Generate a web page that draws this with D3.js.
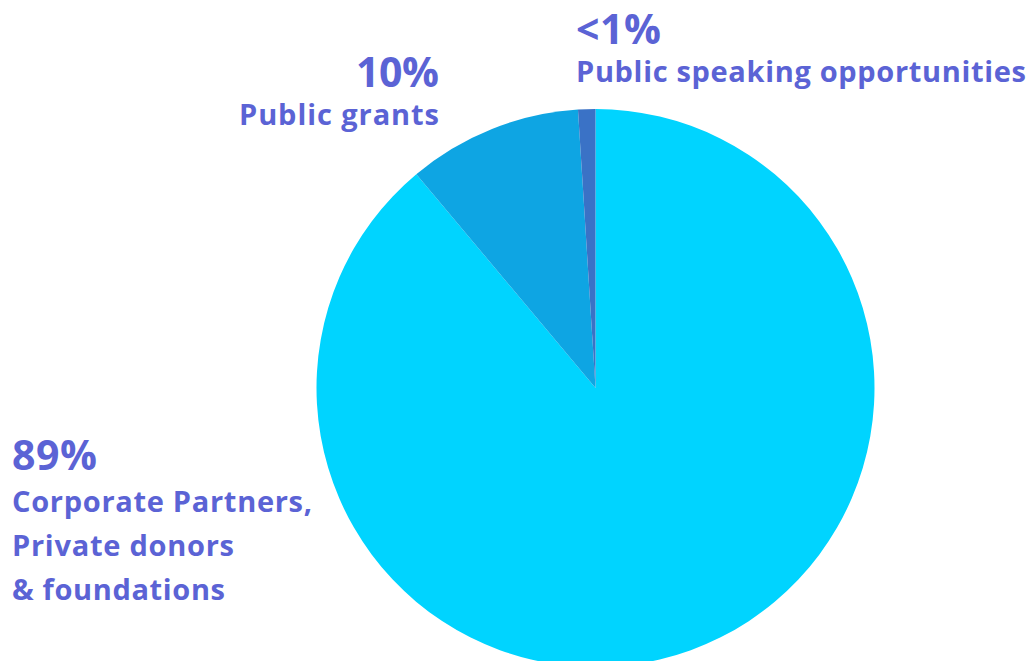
<!DOCTYPE html>
<html><head><meta charset="utf-8">
<script src="https://cdn.jsdelivr.net/npm/d3@7"></script>
<style>
html,body{margin:0;padding:0;background:#fff;}
text{font-family:"Open Sans",Lato,sans-serif;font-weight:700;fill:#5B63D5;}
</style></head>
<body><svg id="c" width="1032" height="661"></svg>
<script>
const categories = ["Corporate Partners, Private donors & foundations", "Public grants", "Public speaking opportunities"];
const values = [88.9, 10.1, 1.0];
const percentLabels = ["89%", "10%", "<1%"];
const labelLines = [["Corporate Partners,", "Private donors", "& foundations"], ["Public grants"], ["Public speaking opportunities"]];
const colors = ["#00D4FF", "#0EA5E3", "#3A72C6"];

const svg = d3.select("#c");
const cx = 595.5, cy = 388, r = 279;
const pie = d3.pie().sort(null).value(d => d)(values);
const arc = d3.arc().innerRadius(0).outerRadius(r);
const g = svg.append("g").attr("transform", `translate(${cx},${cy})`);
g.selectAll("path").data(pie).join("path").attr("d", arc).attr("fill", (d,i) => colors[i]);

// label layout (positions and fitted widths in pixels)
const layout = [
  {x: 12, y: 470, anchor: "start", lineY: 511.5, step: 44, pw: 85, lw: [300, 222, 213]},
  {x: 439, y: 87, anchor: "end", lineY: 124.5, step: 44, pw: 83, lw: [200]},
  {x: 576, y: 44, anchor: "start", lineY: 82, step: 44, pw: 85, lw: [450]}
];
categories.forEach((c, i) => {
  const L = layout[i];
  svg.append("text").attr("x", L.x).attr("y", L.y).attr("text-anchor", L.anchor)
    .attr("textLength", L.pw).attr("lengthAdjust", "spacing")
    .style("font-size", "41px").text(percentLabels[i]);
  labelLines[i].forEach((ln, j) => {
    svg.append("text").attr("x", L.x).attr("y", L.lineY + j * L.step).attr("text-anchor", L.anchor)
      .attr("textLength", L.lw[j]).attr("lengthAdjust", "spacing")
      .style("font-size", "29px").text(ln);
  });
});
</script></body></html>
